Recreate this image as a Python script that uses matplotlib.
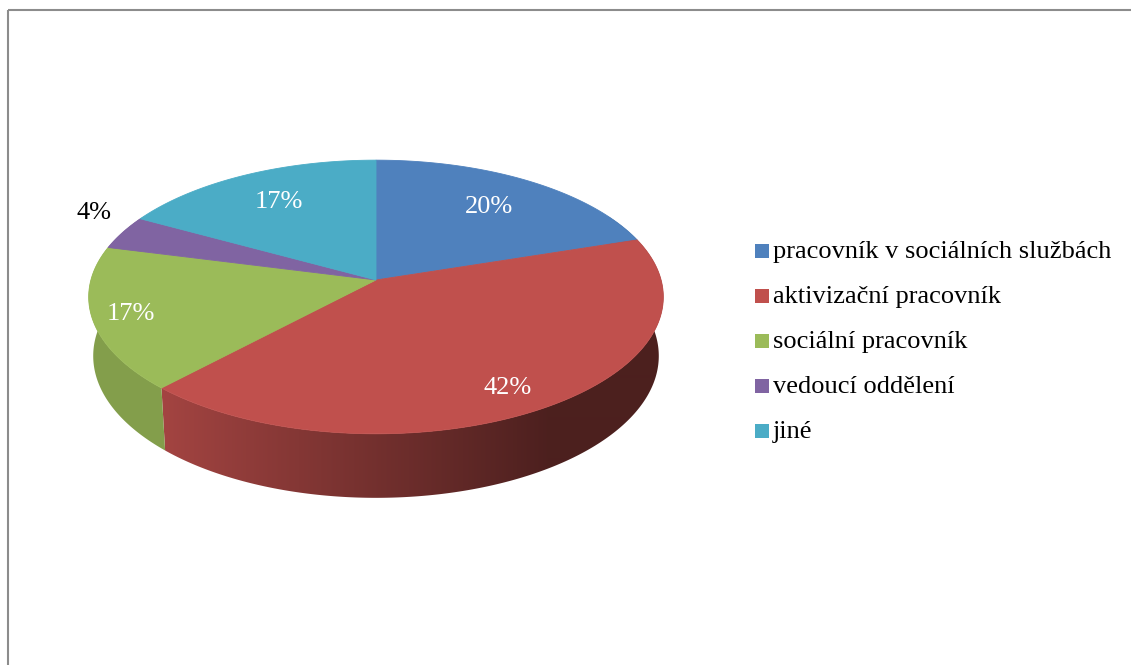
# -*- coding: utf-8 -*-
"""3D koláčový graf (styl Excel) – pracovní pozice respondentů."""
import numpy as np
import matplotlib
matplotlib.use('Agg')
import matplotlib.pyplot as plt
from matplotlib.patches import Polygon, Rectangle

# data
CATEGORIES = ['pracovník v sociálních službách', 'aktivizační pracovník',
              'sociální pracovník', 'vedoucí oddělení', 'jiné']
SHARES = [20, 42, 17, 4, 17]
LABELS = ['20%', '42%', '17%', '4%', '17%']

COLORS = ['#4F81BD', '#C0504D', '#9BBB59', '#8064A2', '#4BACC6']
LABEL_COLORS = ['white', 'white', 'white', 'black', 'white']
LABEL_R = [0.72, 0.84, 0.87, 1.18, 0.72]
LABEL_DTH = [0, 2.4, 0, 5, 0]

# geometrie (pixely)
W, H = 1131, 665
CX, CY = 376, 280
SCALE = 2027
DIST = 7.11
TILT = np.radians(28.2)
DEPTH = 0.237

plt.rcParams['font.family'] = ['Liberation Serif', 'DejaVu Serif']


def project(theta, r=1.0, y=0.0):
    t = np.radians(theta)
    X = r * np.sin(t)
    Z = r * np.cos(t)
    depth = DIST - y * np.sin(TILT) + Z * np.cos(TILT)
    xp = X / depth
    yp = (y * np.cos(TILT) + Z * np.sin(TILT)) / depth
    return CX + SCALE * xp, CY - SCALE * yp


def shade_factor(theta):
    return np.clip(0.6 - 0.37 * np.sin(np.radians(theta)), 0.4, 0.85)


fig = plt.figure(figsize=(W / 100, H / 100), dpi=100)
ax = fig.add_axes([0, 0, 1, 1])
ax.set_xlim(0, W)
ax.set_ylim(H, 0)
ax.axis('off')

total = float(sum(SHARES))
bounds = np.concatenate([[0], np.cumsum(SHARES) / total * 360])

# úhel -> sloupec obrazu (pro přechod na boční stěně)
th_grid = np.linspace(97, 263, 800)
x_grid = project(th_grid)[0][::-1]
cols = np.arange(W) + 0.5
theta_col = np.interp(cols, x_grid, th_grid[::-1])
fac_col = shade_factor(theta_col)

# boční stěny (přední část; zadní zakryje horní plocha)
for i in range(len(SHARES)):
    a0, a1 = max(bounds[i], 60), min(bounds[i + 1], 300)
    if a1 <= a0:
        continue
    ts = np.linspace(a0, a1, int(np.ceil(a1 - a0)) * 2 + 2)
    top = [project(t) for t in ts]
    bot = [project(t, y=-DEPTH) for t in ts[::-1]]
    wall = Polygon(top + bot, closed=True, facecolor='none', edgecolor='none')
    ax.add_patch(wall)
    rgb = np.array(matplotlib.colors.to_rgb(COLORS[i]))
    img = (fac_col[:, None] * rgb[None, :])[None, :, :]
    im = ax.imshow(img, extent=(0, W, H, 0), aspect='auto',
                   interpolation='bilinear', zorder=1)
    im.set_clip_path(wall)

# horní plocha
for i in range(len(SHARES)):
    ts = np.linspace(bounds[i], bounds[i + 1], max(int(bounds[i + 1] - bounds[i]), 2) * 2 + 1)
    pts = [(CX, CY)] + [project(t) for t in ts]
    ax.add_patch(Polygon(pts, closed=True, facecolor=COLORS[i],
                         edgecolor=COLORS[i], lw=0.6, zorder=2))

# popisky
for i in range(len(SHARES)):
    mid = (bounds[i] + bounds[i + 1]) / 2 + LABEL_DTH[i]
    x, y = project(mid, LABEL_R[i])
    ax.text(x, y, LABELS[i], ha='center', va='center', fontsize=19,
            color=LABEL_COLORS[i], zorder=3)

# legenda
for i, name in enumerate(CATEGORIES):
    yy = 251 + i * 45
    ax.add_patch(Rectangle((755, yy - 7), 14, 14, facecolor=COLORS[i],
                           edgecolor='none'))
    ax.text(773, yy + 1, name, ha='left', va='center', fontsize=19,
            color='black')

# rámeček
ax.plot([8, 8], [H, 10], color='#8C8C8C', lw=1.5, solid_capstyle='butt')
ax.plot([8, W], [10, 10], color='#8C8C8C', lw=1.5, solid_capstyle='butt')

fig.savefig('out.png', dpi=100, facecolor='white')
